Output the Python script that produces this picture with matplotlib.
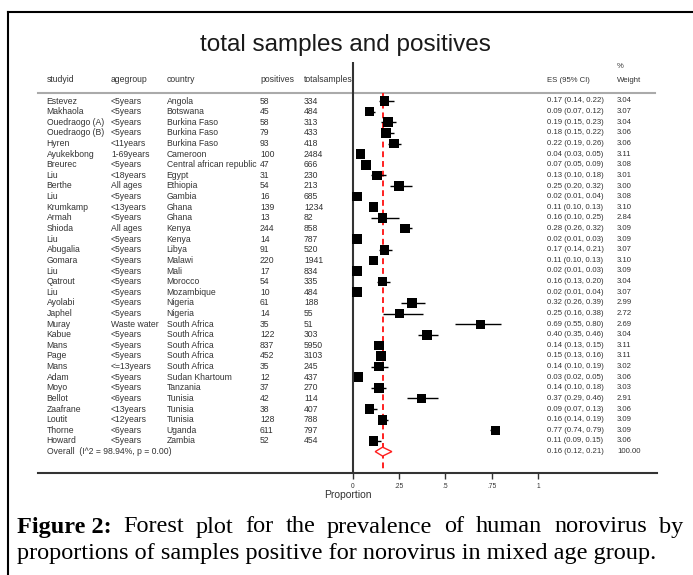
import numpy as np
import matplotlib.pyplot as plt
from matplotlib.lines import Line2D

# study table
studyid = ["Estevez", "Makhaola", "Ouedraogo (A)", "Ouedraogo (B)", "Hyren", "Ayukekbong",
           "Breurec", "Liu", "Berthe", "Liu", "Krumkamp", "Armah", "Shioda", "Liu", "Abugalia",
           "Gomara", "Liu", "Qatrout", "Liu", "Ayolabi", "Japhel", "Muray", "Kabue", "Mans",
           "Page", "Mans", "Adam", "Moyo", "Bellot", "Zaafrane", "Loutit", "Thorne", "Howard"]
agegroup = ["<5years", "<5years", "<5years", "<5years", "<11years", "1-69years", "<5years",
            "<18years", "All ages", "<5years", "<13years", "<5years", "All ages", "<5years",
            "<5years", "<5years", "<5years", "<5years", "<5years", "<5years", "<5years",
            "Waste water", "<5years", "<5years", "<5years", "<=13years", "<5years", "<5years",
            "<6years", "<13years", "<12years", "<6years", "<5years"]
country = ["Angola", "Botswana", "Burkina Faso", "Burkina Faso", "Burkina Faso", "Cameroon",
           "Central african republic", "Egypt", "Ethiopia", "Gambia", "Ghana", "Ghana", "Kenya",
           "Kenya", "Libya", "Malawi", "Mali", "Morocco", "Mozambique", "Nigeria", "Nigeria",
           "South Africa", "South Africa", "South Africa", "South Africa", "South Africa",
           "Sudan Khartoum", "Tanzania", "Tunisia", "Tunisia", "Tunisia", "Uganda", "Zambia"]
positives = [58, 45, 58, 79, 93, 100, 47, 31, 54, 16, 139, 13, 244, 14, 91, 220, 17, 54, 10,
             61, 14, 35, 122, 837, 452, 35, 12, 37, 42, 38, 128, 611, 52]
totalsamples = [334, 484, 313, 433, 418, 2484, 666, 230, 213, 685, 1234, 82, 858, 787, 520,
                1941, 834, 335, 484, 188, 55, 51, 303, 5950, 3103, 245, 437, 270, 114, 407,
                788, 797, 454]
es = [0.17, 0.09, 0.19, 0.18, 0.22, 0.04, 0.07, 0.13, 0.25, 0.02, 0.11, 0.16, 0.28, 0.02, 0.17,
      0.11, 0.02, 0.16, 0.02, 0.32, 0.25, 0.69, 0.40, 0.14, 0.15, 0.14, 0.03, 0.14, 0.37, 0.09,
      0.16, 0.77, 0.11]
ci_lo = [0.14, 0.07, 0.15, 0.15, 0.19, 0.03, 0.05, 0.10, 0.20, 0.01, 0.10, 0.10, 0.26, 0.01,
         0.14, 0.10, 0.01, 0.13, 0.01, 0.26, 0.16, 0.55, 0.35, 0.13, 0.13, 0.10, 0.02, 0.10,
         0.29, 0.07, 0.14, 0.74, 0.09]
ci_hi = [0.22, 0.12, 0.23, 0.22, 0.26, 0.05, 0.09, 0.18, 0.32, 0.04, 0.13, 0.25, 0.32, 0.03,
         0.21, 0.13, 0.03, 0.20, 0.04, 0.39, 0.38, 0.80, 0.46, 0.15, 0.16, 0.19, 0.05, 0.18,
         0.46, 0.13, 0.19, 0.79, 0.15]
weight = [3.04, 3.07, 3.04, 3.06, 3.06, 3.11, 3.08, 3.01, 3.00, 3.08, 3.10, 2.84, 3.09, 3.09,
          3.07, 3.10, 3.09, 3.04, 3.07, 2.99, 2.72, 2.69, 3.04, 3.11, 3.11, 3.02, 3.06, 3.03,
          2.91, 3.06, 3.09, 3.09, 3.06]

overall_label = "Overall  (I^2 = 98.94%, p = 0.00)"
overall_es, overall_lo, overall_hi, overall_w = 0.16, 0.12, 0.21, 100.00

xticks = [0, 0.25, 0.5, 0.75, 1]
xticklabels = ["0", ".25", ".5", ".75", "1"]

W, H = 693, 575
TXT = "#333333"
SANS = "Liberation Sans"


def fx(px):
    return px / W


def fy(py):
    return 1 - py / H


fig = plt.figure(figsize=(W / 100, H / 100), dpi=100)
fig.patch.set_facecolor("white")

# frame around the figure panel
fig.add_artist(Line2D([fx(8), 1], [fy(12), fy(12)], color="black", lw=1.5))
fig.add_artist(Line2D([fx(8), fx(8)], [fy(12), 0], color="black", lw=1.5))

fig.text(fx(345), fy(45), "total samples and positives", ha="center", va="center",
         fontsize=17.5, family=SANS, color="#1a1a1a")

# axes: 185 px per unit of proportion, zero at x=353 px; rows 10.625 px apart
ax = fig.add_axes([fx(38), fy(473), fx(657) - fx(38), fy(62) - fy(473)])
ax.set_xlim((38 - 353) / 185, (657 - 353) / 185)
row0, pitch = 101, 10.625
ax.set_ylim((473 - row0) / pitch + 1, (62 - row0) / pitch + 1)

for s in ["top", "right", "left"]:
    ax.spines[s].set_visible(False)
ax.spines["bottom"].set_color(TXT)
ax.spines["bottom"].set_linewidth(1.5)
ax.set_yticks([])
ax.set_xticks(xticks)
ax.set_xticklabels(xticklabels, fontsize=4.8, family=SANS, color=TXT)
ax.tick_params(axis="x", length=4, width=1, color=TXT, pad=3)
ax.set_xlabel("Proportion", fontsize=7.5, family=SANS, color=TXT, labelpad=0)

n = len(studyid)
y = np.arange(1, n + 1)
y_overall = n + 1
y_head = (80 - row0) / pitch + 1
y_pct = (67 - row0) / pitch + 1
y_line = (93 - row0) / pitch + 1

# header
col_x = {"studyid": -1.656, "agegroup": -1.308, "country": -1.007,
         "positives": -0.503, "totalsamples": -0.265, "es": 1.049, "w": 1.427}
fs = 6.2    # left-hand table
fs_r = 5.6  # right-hand columns
for key in ["studyid", "agegroup", "country", "positives", "totalsamples"]:
    ax.text(col_x[key], y_head, key, fontsize=fs, family=SANS, color=TXT, va="center",
            zorder=1)
ax.text(col_x["es"], y_head, "ES (95% CI)", fontsize=fs_r, family=SANS, color=TXT, va="center")
ax.text(col_x["w"], y_head, "Weight", fontsize=fs_r, family=SANS, color=TXT, va="center")
ax.text(col_x["w"], y_pct, "%", fontsize=fs_r, family=SANS, color=TXT, va="center")
ax.plot([ax.get_xlim()[0], (655 - 353) / 185], [y_line, y_line], color="#aaaaaa", lw=1.5,
        clip_on=False)

# rows
for i in range(n):
    left_cells = [("studyid", studyid[i]), ("agegroup", agegroup[i]), ("country", country[i]),
                  ("positives", str(positives[i])), ("totalsamples", str(totalsamples[i]))]
    for key, txt in left_cells:
        ax.text(col_x[key], y[i], txt, fontsize=fs, family=SANS, color=TXT, va="center")
    ax.text(col_x["es"], y[i], f"{es[i]:.2f} ({ci_lo[i]:.2f}, {ci_hi[i]:.2f})",
            fontsize=fs_r, family=SANS, color=TXT, va="center")
    ax.text(col_x["w"], y[i], f"{weight[i]:.2f}", fontsize=fs_r, family=SANS, color=TXT,
            va="center")

ax.text(col_x["studyid"], y_overall, overall_label, fontsize=fs, family=SANS, color=TXT,
        va="center")
ax.text(col_x["es"], y_overall, f"{overall_es:.2f} ({overall_lo:.2f}, {overall_hi:.2f})",
        fontsize=fs_r, family=SANS, color=TXT, va="center")
ax.text(col_x["w"], y_overall, f"{overall_w:.2f}", fontsize=fs_r, family=SANS, color=TXT,
        va="center")

# zero line and pooled estimate
ax.axvline(0, color=TXT, lw=1.5, zorder=3)
ax.vlines(overall_es, y_line, ax.get_ylim()[0], color="#ff2020", lw=1.4,
          linestyles=(0, (3, 2)), zorder=2)

# study estimates
ax.hlines(y, ci_lo, ci_hi, color="black", lw=1, zorder=4)
ax.scatter(es, y, marker="s", s=[48 * w / 3.07 for w in weight], color="black",
           linewidths=0, zorder=5)

# pooled diamond
h = 0.42
ax.fill([overall_lo, overall_es, overall_hi, overall_es],
        [y_overall, y_overall - h, y_overall, y_overall + h],
        facecolor="white", edgecolor="#ff2020", lw=1, zorder=6)

# caption, first line justified
cap_fs = 17.5
cap_words = [("Figure 2:", "bold"), ("Forest", "normal"), ("plot", "normal"), ("for", "normal"),
             ("the", "normal"), ("prevalence", "normal"), ("of", "normal"), ("human", "normal"),
             ("norovirus", "normal"), ("by", "normal")]
cap_line2 = "proportions of samples positive for norovirus in mixed age group."

fig.canvas.draw()
renderer = fig.canvas.get_renderer()
arts = []
for word, wt in cap_words:
    t = fig.text(0, fy(527), word, fontsize=cap_fs, family="Liberation Serif",
                 fontweight=wt, va="center", ha="left")
    arts.append(t)
widths = [a.get_window_extent(renderer).width for a in arts]
x0, x1 = 17, 683
gap = (x1 - x0 - sum(widths)) / (len(arts) - 1)
xpos = x0
for a, wd in zip(arts, widths):
    a.set_x(fx(xpos))
    xpos += wd + gap

fig.text(fx(17), fy(553), cap_line2, fontsize=cap_fs, family="Liberation Serif",
         va="center", ha="left")

fig.savefig("out.png", dpi=100)
